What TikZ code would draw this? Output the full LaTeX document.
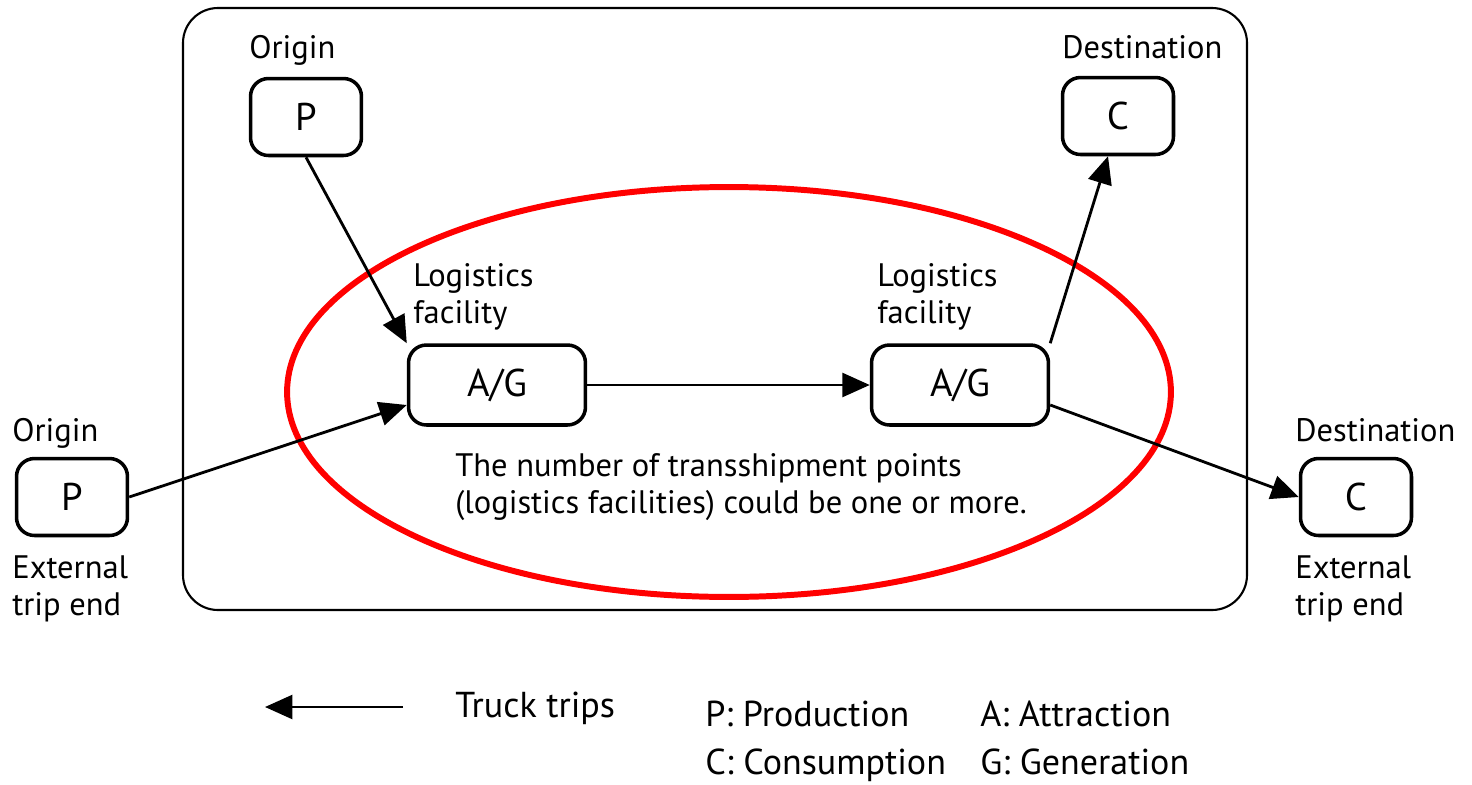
\documentclass[tikz,border=0pt]{standalone}
\usepackage{fontspec}
\setmainfont{PT Sans}
\usepackage{tikz}
\usetikzlibrary{arrows.meta,positioning}

\begin{document}
\begin{tikzpicture}[x=0.02cm,y=-0.02cm,
box/.style={draw,line width=2pt,rounded corners=0.36cm,minimum width=2.22cm,minimum height=1.54cm,font=\fontsize{22}{24}\selectfont},
agbox/.style={box,minimum width=3.54cm,minimum height=1.6cm},
lbl/.style={inner sep=0pt,anchor=base west,align=left,font=\fontsize{18.5}{21}\selectfont},
leg/.style={lbl,font=\fontsize{20.5}{24}\selectfont},
arrow/.style={-{Triangle[length=0.55cm,width=0.48cm]},line width=1.6pt}
]
\useasboundingbox (0,0) rectangle (1472,785);
% study area
\draw[line width=1.2pt,rounded corners=0.7cm] (183,8) rectangle (1247,610);
\draw[red,line width=3.4pt] (729,392) ellipse [x radius=8.84cm,y radius=4.1cm];
% boxes
\node[box] (ptop) at (306,117) {P};
\node[box] (ctop) at (1118,116) {C};
\node[agbox] (agl) at (497,385) {A/G};
\node[agbox] (agr) at (960,385) {A/G};
\node[box] (pext) at (72,497) {P};
\node[box] (cext) at (1356,497) {C};
% labels (base = last line)
\node[lbl] (lorig) at (249,58) {Origin};
\node[lbl] (ldest) at (1062,58) {Destination};
\node[lbl] (llogl) at (413,323) {Logistics\\facility};
\node[lbl] (llogr) at (877,323) {Logistics\\facility};
\node[lbl] (lorigext) at (12,441) {Origin};
\node[lbl] (lext) at (12,615) {External\\trip end};
\node[lbl] (ldestext) at (1295,441) {Destination};
\node[lbl] (lextr) at (1295,615) {External\\trip end};
\node[lbl] (note) at (455,513) {The number of transshipment points\\(logistics facilities) could be one or more.};
% legend
\coordinate (lega) at (403,707);
\coordinate (legb) at (265,707);
\node[leg] (ltruck) at (455,717) {Truck trips};
\node[leg] (lprod) at (705,726) {P: Production};
\node[leg] (lattr) at (980,726) {A: Attraction};
\node[leg] (lcons) at (705,774) {C: Consumption};
\node[leg] (lgen) at (980,774) {G: Generation};
% trips
\draw[arrow] (ptop.south) -- (agl.north west);
\draw[arrow] (pext.east) -- ([yshift=-0.4cm]agl.west);
\draw[arrow] (agl.east) -- (agr.west);
\draw[arrow] (agr.north east) -- ([xshift=-0.2cm]ctop.south);
\draw[arrow] ([yshift=-0.4cm]agr.east) -- (cext.west);
\draw[arrow] (lega) -- (legb);
\end{tikzpicture}
\end{document}
